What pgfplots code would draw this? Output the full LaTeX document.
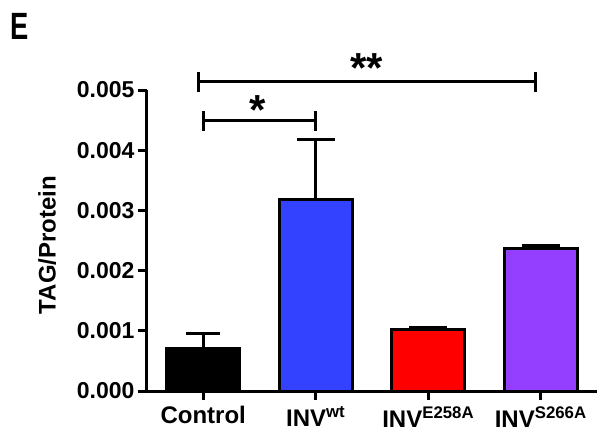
\documentclass[border=0pt]{standalone}
\usepackage{fontspec}
\setmainfont{Liberation Sans}
\usepackage{pgfplots}
\pgfplotsset{compat=1.18}
\definecolor{cblue}{RGB}{50,66,255}
\definecolor{cred}{RGB}{255,0,0}
\definecolor{cpurple}{RGB}{148,62,255}
\begin{document}
\begin{tikzpicture}
\useasboundingbox (-147pt,-48pt) rectangle (457pt,391pt);
\begin{axis}[
  at={(0pt,0pt)}, anchor=south west,
  scale only axis, width=450pt, height=301pt,
  xmin=-0.5, xmax=3.5, ymin=0, ymax=0.005,
  axis lines=left,
  axis line style={-, line width=3pt, black},
  clip=false,
  xtick={0,1,2,3},
  xticklabels={Control, INV\textsuperscript{wt}, INV\textsuperscript{E258A}, INV\textsuperscript{S266A}},
  ytick={0,0.001,0.002,0.003,0.004,0.005},
  scaled y ticks=false,
  tick align=outside,
  major tick length=9pt,
  tick style={line width=3pt, black},
  /pgf/number format/assume math mode=true,
  yticklabel style={font=\bfseries\fontsize{23}{23}\selectfont, /pgf/number format/.cd, fixed, fixed zerofill, precision=3},
  xticklabel style={font=\bfseries\fontsize{24}{24}\selectfont, yshift=-3pt},
  ylabel={TAG/Protein},
  ylabel style={font=\bfseries\fontsize{24}{24}\selectfont, at={(axis description cs:-0.222,0.485)}, anchor=center},
  errstyle/.style={error bars/.cd, y dir=plus, y explicit,
    error bar style={line width=3pt, black},
    error mark options={rotate=90, line width=3pt, black, mark size=#1}},
]
\addplot[ybar, bar width=73pt, bar shift=0pt, fill=black, draw=black, line width=3pt, errstyle=17pt]
  coordinates {(0,0.000703) +- (0,0.000244)};
\addplot[ybar, bar width=73pt, bar shift=0pt, fill=cblue, draw=black, line width=3pt, errstyle=19pt]
  coordinates {(1,0.003184) +- (0,0.001002)};
\addplot[ybar, bar width=73pt, bar shift=0pt, fill=cred, draw=black, line width=3pt, errstyle=19pt]
  coordinates {(2,0.001025) +- (0,0.000033)};
\addplot[ybar, bar width=73pt, bar shift=0pt, fill=cpurple, draw=black, line width=3pt, errstyle=19pt]
  coordinates {(3,0.002364) +- (0,0.000061)};
% significance brackets
\draw[line width=3pt] (axis cs:-0.045,0.005133) -- (axis cs:2.955,0.005133);
\draw[line width=3pt] (axis cs:-0.045,0.004967) -- (axis cs:-0.045,0.005299);
\draw[line width=3pt] (axis cs:2.955,0.004967) -- (axis cs:2.955,0.005299);
\draw[line width=3pt] (axis cs:0.003,0.00449) -- (axis cs:1.0,0.00449);
\draw[line width=3pt] (axis cs:0.003,0.004324) -- (axis cs:0.003,0.004656);
\draw[line width=3pt] (axis cs:1.0,0.004324) -- (axis cs:1.0,0.004656);
\node[anchor=north, inner sep=0pt, font=\bfseries\fontsize{42}{42}\selectfont] at (axis cs:1.454,0.00561) {**};
\node[anchor=north, inner sep=0pt, font=\bfseries\fontsize{42}{42}\selectfont] at (axis cs:0.48,0.004917) {*};
\end{axis}
\node[anchor=base west, inner sep=0pt, font=\bfseries\fontsize{38}{38}\selectfont] at (-137pt,351pt) {\scalebox{0.72}[1]{E}};
\end{tikzpicture}
\end{document}
